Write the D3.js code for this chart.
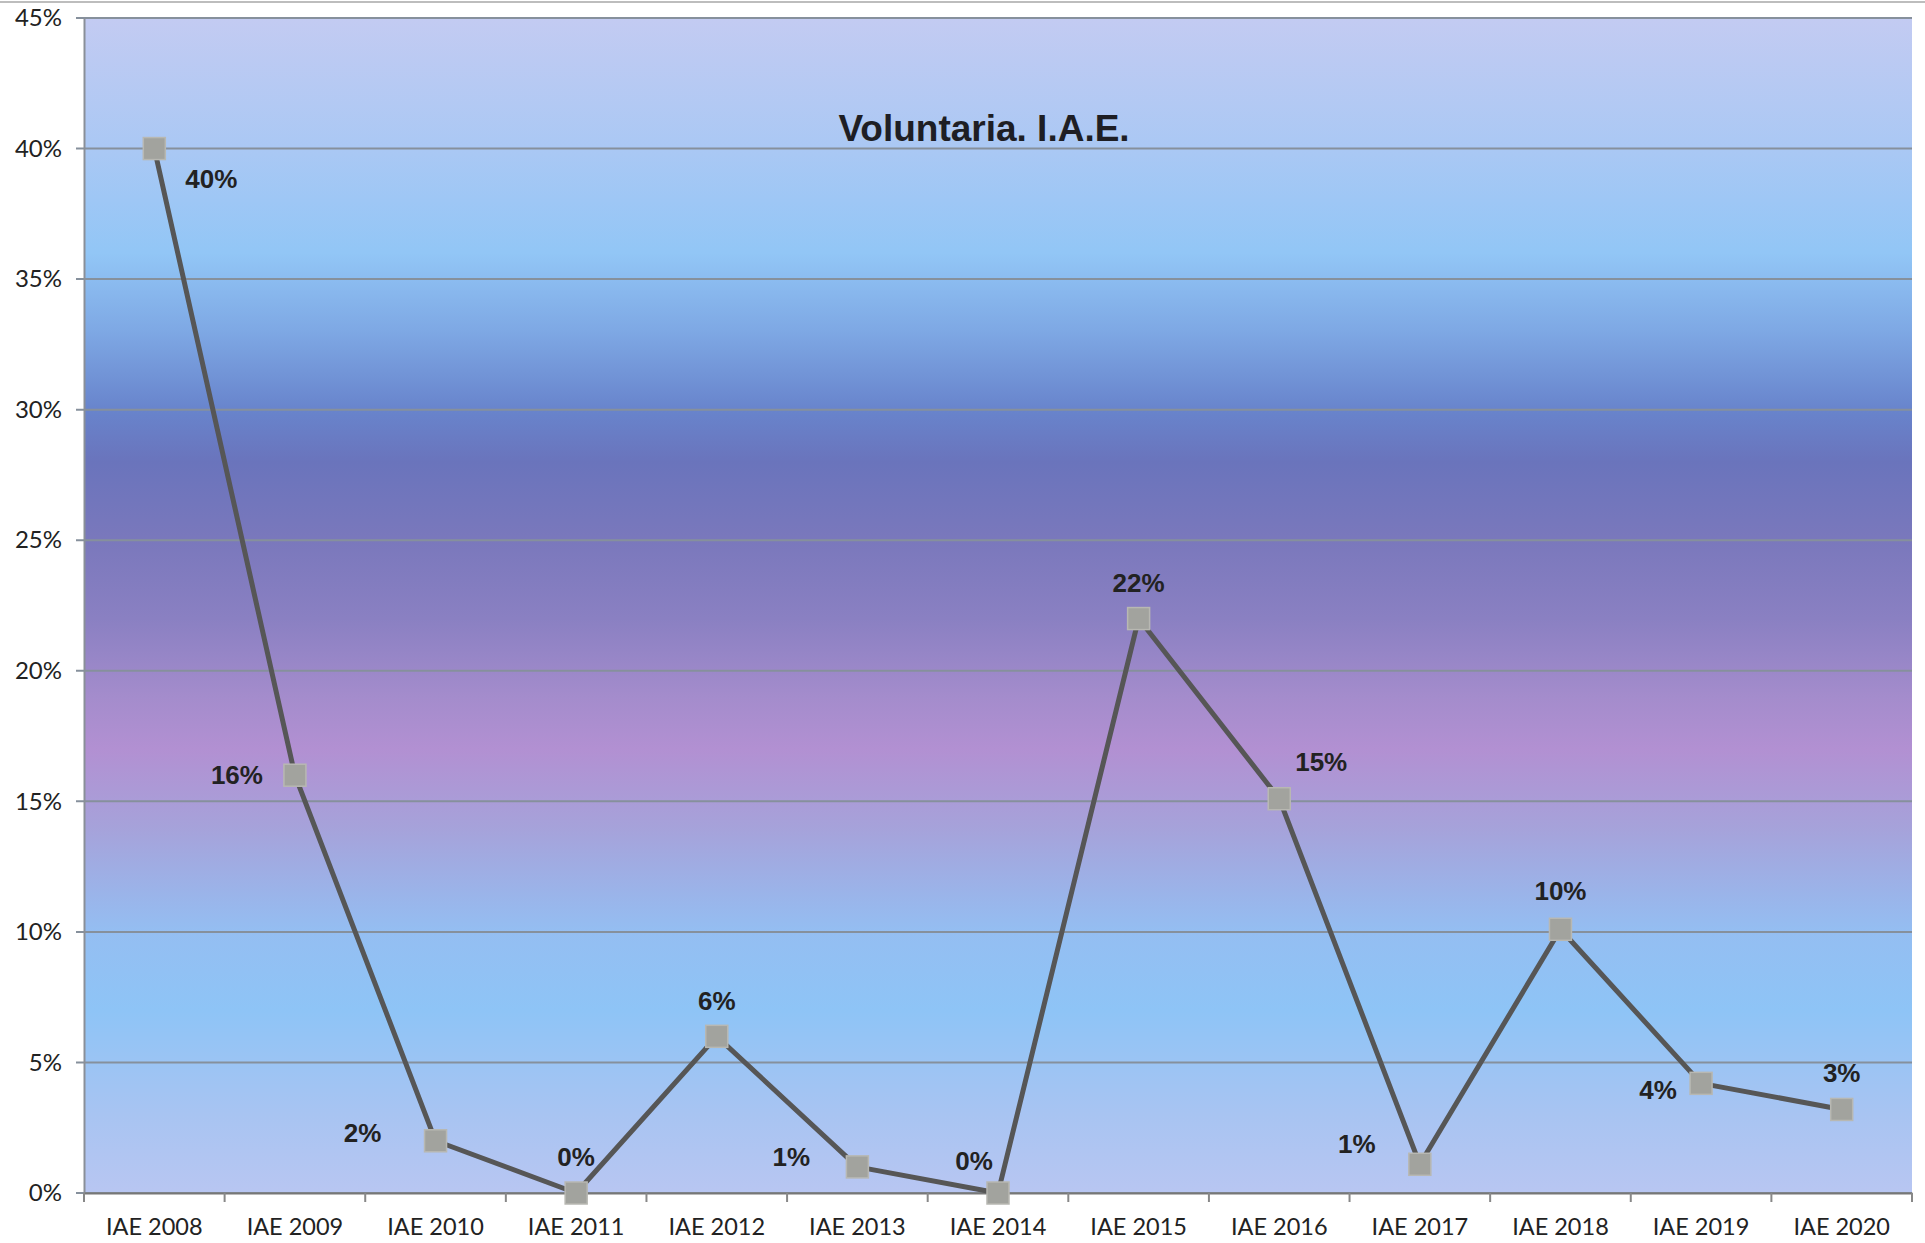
<!DOCTYPE html>
<html><head><meta charset="utf-8">
<script src="https://cdn.jsdelivr.net/npm/d3@7"></script>
<style>html,body{margin:0;padding:0;background:#fff;}svg{display:block;}</style>
</head><body>
<script>
const categories = ["IAE 2008","IAE 2009","IAE 2010","IAE 2011","IAE 2012","IAE 2013","IAE 2014","IAE 2015","IAE 2016","IAE 2017","IAE 2018","IAE 2019","IAE 2020"];
const values = [0.40, 0.16, 0.02, 0.0, 0.06, 0.01, 0.0, 0.22, 0.151, 0.011, 0.101, 0.042, 0.032];
const yTicks = [0,0.05,0.10,0.15,0.20,0.25,0.30,0.35,0.40,0.45];
const title = "Voluntaria. I.A.E.";
// label placement offsets (style)
const labelOffsets = [[57,30],[-58,0],[-73,-8],[0,-36],[0,-35],[-66,-10],[-24,-32],[0,-36],[42,-37],[-63,-20],[0,-38],[-43,7],[0,-36]];
const bgStops = [[0.45,"#c3cbf2"],[0.40,"#aac8f4"],[0.36,"#92c6f6"],[0.33,"#7ea8e4"],[0.30,"#6884cc"],[0.28,"#6a74bc"],[0.25,"#7a78bc"],[0.22,"#8a80c2"],[0.19,"#a48ccc"],[0.17,"#b290d2"],[0.14,"#a6a2da"],[0.10,"#94bef2"],[0.07,"#8ec4f6"],[0.03,"#a8c4f2"],[0.0,"#b8c6f2"]];

const W=1925,H=1243;
const m={left:84,right:13,top:18,bottom:50};
const svg=d3.select("body").append("svg").attr("width",W).attr("height",H);
const x=d3.scaleBand().domain(categories).range([m.left,W-m.right]);
const y=d3.scaleLinear().domain([0,0.45]).range([H-m.bottom,m.top]);

const defs=svg.append("defs");
const g=defs.append("linearGradient").attr("id","bg").attr("gradientUnits","userSpaceOnUse")
  .attr("x1",0).attr("x2",0).attr("y1",y(0.45)).attr("y2",y(0));
bgStops.forEach(s=>g.append("stop").attr("offset",(y(s[0])-y(0.45))/(y(0)-y(0.45))).attr("stop-color",s[1]));

// top scan border
svg.append("line").attr("x1",0).attr("x2",W).attr("y1",2).attr("y2",2).attr("stroke","#bdbdbd").attr("stroke-width",2);

svg.append("rect").attr("x",m.left).attr("y",y(0.45)).attr("width",W-m.right-m.left).attr("height",y(0)-y(0.45)).attr("fill","url(#bg)");

// gridlines
svg.append("g").selectAll("line").data(yTicks).join("line")
  .attr("x1",m.left-8).attr("x2",W-m.right).attr("y1",d=>y(d)).attr("y2",d=>y(d))
  .attr("stroke","#86909c").attr("stroke-width",2);

// y axis
const ya=svg.append("g").attr("transform",`translate(${m.left},0)`)
  .call(d3.axisLeft(y).tickValues(yTicks).tickFormat(d3.format(".0%")).tickSize(0).tickPadding(22));
ya.select(".domain").attr("stroke","#8a8f98").attr("stroke-width",2);
ya.selectAll("text").attr("font-family","Lato, 'Open Sans', sans-serif").attr("font-size",24).attr("fill","#222");

// x axis
const xa=svg.append("g").attr("transform",`translate(0,${y(0)})`)
  .call(d3.axisBottom(x).tickSize(0).tickPadding(25));
xa.select(".domain").attr("stroke","#777").attr("stroke-width",2);
xa.selectAll("text").attr("font-family","Lato, 'Open Sans', sans-serif").attr("font-size",23.5).attr("fill","#222");
const bounds=categories.map(c=>x(c)).concat([x(categories[categories.length-1])+x.bandwidth()]);
xa.append("g").selectAll("line").data(bounds).join("line")
  .attr("x1",d=>d).attr("x2",d=>d).attr("y1",0).attr("y2",9).attr("stroke","#888").attr("stroke-width",2);

// title
svg.append("text").attr("x",984).attr("y",141).attr("text-anchor","middle")
  .attr("font-family","'Liberation Sans', Arial, sans-serif").attr("font-weight","bold").attr("font-size",37).attr("fill","#1e1e24").text(title);

// line
const cx=c=>x(c)+x.bandwidth()/2;
svg.append("path").datum(values).attr("fill","none").attr("stroke","#565656").attr("stroke-width",5).attr("stroke-linejoin","round")
  .attr("d",d3.line().x((d,i)=>cx(categories[i])).y(d=>y(d)));

// markers
const ms=22;
svg.append("g").selectAll("rect").data(values).join("rect")
  .attr("x",(d,i)=>cx(categories[i])-ms/2).attr("y",d=>y(d)-ms/2).attr("width",ms).attr("height",ms)
  .attr("fill","#a2a39e").attr("stroke","#b8b8b2").attr("stroke-width",1.5);

// labels
svg.append("g").selectAll("text").data(values).join("text")
  .attr("x",(d,i)=>cx(categories[i])+labelOffsets[i][0]).attr("y",(d,i)=>y(d)+labelOffsets[i][1])
  .attr("text-anchor","middle").attr("dominant-baseline","central")
  .attr("font-family","'Liberation Sans', Arial, sans-serif").attr("font-weight","bold").attr("font-size",26).attr("fill","#222")
  .text(d=>d3.format(".0%")(d));
</script>
</body></html>
